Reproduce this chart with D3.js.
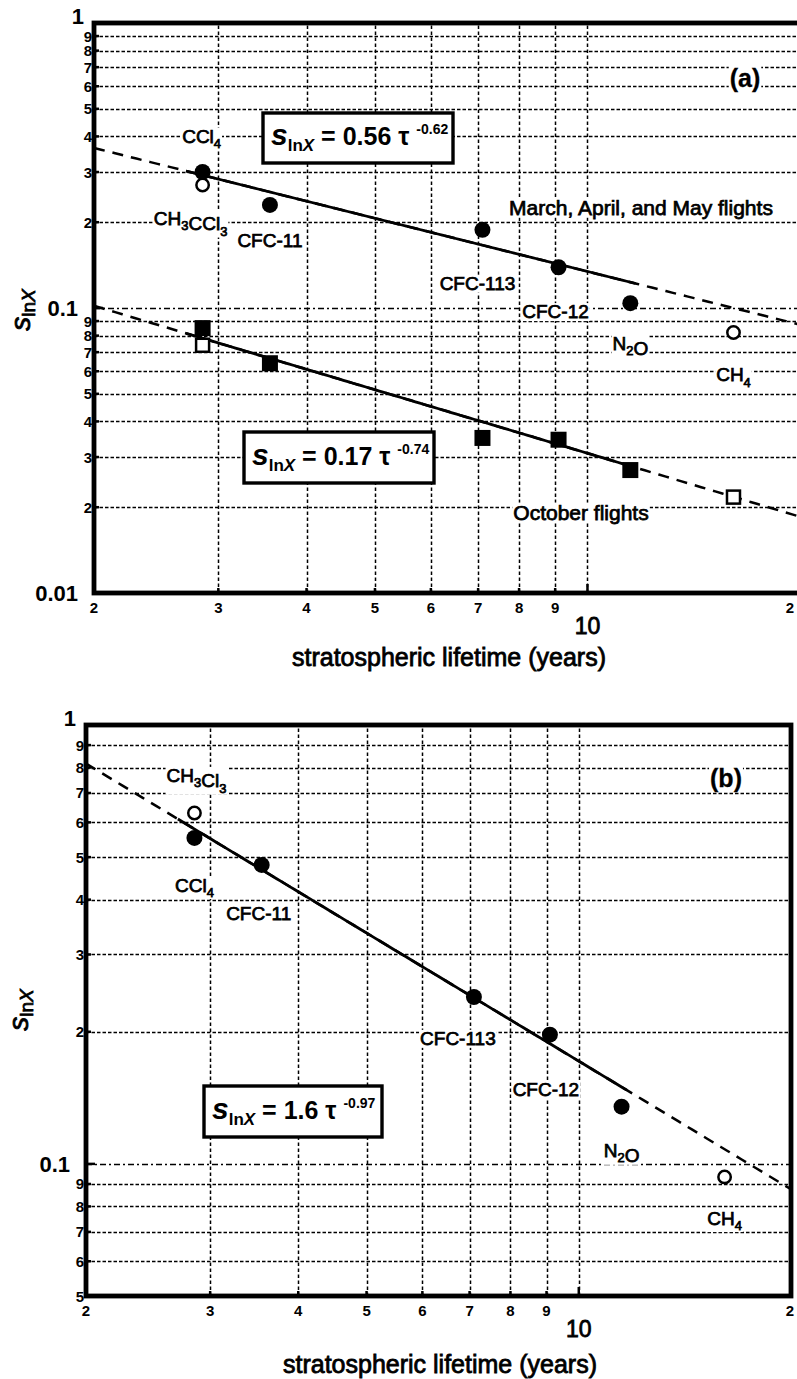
<!DOCTYPE html>
<html>
<head>
<meta charset="utf-8">
<script src="https://cdn.jsdelivr.net/npm/d3@7"></script>
<style>
  body { margin: 0; background: #fff; }
  svg { display: block; }
  text { font-family: "Liberation Sans", Arial, Helvetica, sans-serif; fill: #000; }
</style>
</head>
<body>
<svg id="chart" width="797" height="1379"></svg>
<script>
// ---- data -------------------------------------------------------------
// trace species, in plotting order
const speciesA = ["CCl_4", "CH_3CCl_3", "CFC-11", "CFC-113", "CFC-12", "N_2O", "CH_4"];
const speciesB = ["CCl_4", "CH_3Cl_3", "CFC-11", "CFC-113", "CFC-12", "N_2O", "CH_4"];
// stratospheric lifetime (years)
const lifetime = [2.85, 2.85, 3.55, 7.1, 9.1, 11.5, 16.1];
// species not used in the fit are drawn hollow
const hollow = [false, true, false, false, false, false, true];
// s_lnX, panel (a): March/April/May flights and October flights
const springValues = [0.30, 0.27, 0.23, 0.188, 0.139, 0.104, 0.082];
const octoberValues = [0.085, 0.074, 0.064, 0.035, 0.0345, 0.027, 0.0217];
// s_lnX, panel (b)
const panelBValues = [0.553, 0.63, 0.48, 0.24, 0.197, 0.135, 0.0934];
// power-law fits  s = c * tau^k
const fitCoef = [0.56, 0.17, 1.6];
const fitExp = [-0.62, -0.74, -0.97];
const fitSolidRange = [2.7, 11.7];
// axis ticks
const xMinorTicks = [2, 3, 4, 5, 6, 7, 8, 9];
const xMajorTicks = [10];
const xGridTicks = [3, 4, 5, 6, 7, 8, 9, 10];
const yMinorA = [0.02, 0.03, 0.04, 0.05, 0.06, 0.07, 0.08, 0.09, 0.2, 0.3, 0.4, 0.5, 0.6, 0.7, 0.8, 0.9];
const yMajorA = [0.01, 0.1, 1];
const yMinorB = [0.05, 0.06, 0.07, 0.08, 0.09, 0.2, 0.3, 0.4, 0.5, 0.6, 0.7, 0.8, 0.9];
const yMajorB = [0.1, 1];

// ---- drawing ----------------------------------------------------------
const svg = d3.select("#chart");

// write text with "_n" subscripts as tspans
function richText(sel, str, size) {
  const parts = str.split(/(_\d)/).filter(s => s.length);
  parts.forEach(p => {
    if (p.startsWith("_")) {
      sel.append("tspan").attr("font-size", size * 0.68).attr("dy", size * 0.28).text(p.slice(1));
      sel.append("tspan").attr("font-size", size).attr("dy", -size * 0.28).text("");
    } else {
      sel.append("tspan").text(p);
    }
  });
}

// text with a white knock-out background behind it
function labelWithBg(g, str, cx, cy, size, weight) {
  const t = g.append("text")
    .attr("x", cx).attr("y", cy + size * 0.36)
    .attr("text-anchor", "middle")
    .attr("font-size", size)
    .attr("font-weight", weight || null)
    .attr("stroke", "#000").attr("stroke-width", weight ? 0.3 : 0.75);
  richText(t, str, size);
  const bb = t.node().getBBox();
  g.insert("rect", () => t.node())
    .attr("x", bb.x - 1).attr("y", bb.y + 2)
    .attr("width", bb.width + 2).attr("height", bb.height - 3)
    .attr("fill", "#fff");
  return t;
}

function equationBox(g, box, coef, expo) {
  g.append("rect")
    .attr("x", box[0]).attr("y", box[1])
    .attr("width", box[2]).attr("height", box[3])
    .attr("fill", "#fff").attr("stroke", "#000").attr("stroke-width", 3.4);
  const base = box[1] + box[3] * 0.64;
  const t = g.append("text").attr("x", box[0] + 8).attr("y", base)
    .attr("font-size", 25).attr("font-weight", "bold");
  t.append("tspan").attr("font-style", "italic")
    .attr("font-size", 30).text("s");
  t.append("tspan").attr("font-size", 17).attr("dy", 6).text("ln");
  t.append("tspan").attr("font-size", 17).attr("font-style", "italic").text("X");
  t.append("tspan").attr("font-size", 25).attr("dy", -6).text(" = " + coef + " \u03C4 ");
  t.append("tspan").attr("font-size", 14).attr("dy", -11).text(String(expo));
}

function yTitle(cx, cy) {
  const t = svg.append("text")
    .attr("transform", `translate(${cx},${cy}) rotate(-90)`)
    .attr("text-anchor", "middle")
    .attr("font-size", 28)
    .attr("stroke", "#000").attr("stroke-width", 0.8);
  t.append("tspan").attr("font-style", "italic").text("s");
  t.append("tspan").attr("font-size", 19).attr("dy", 5).text("ln");
  t.append("tspan").attr("font-size", 19).attr("font-style", "italic").text("X");
}

function drawPanel(cfg) {
  const x = d3.scaleLog().domain([2, 20]).range(cfg.xRange);
  const y = d3.scaleLog().domain(cfg.yDomain).range(cfg.yRange);
  const [x0, x1] = cfg.xRange;
  const [yb, yt] = cfg.yRange;
  const g = svg.append("g");

  // clip for the data region
  const clipId = "clip-" + cfg.id;
  svg.append("defs").append("clipPath").attr("id", clipId)
    .append("rect").attr("x", x0).attr("y", yt).attr("width", x1 - x0).attr("height", yb - yt);

  // grid
  const grid = g.append("g").attr("stroke", "#000").attr("stroke-width", 1.5).attr("fill", "none");
  grid.selectAll("line.h").data(cfg.yMinor.concat(cfg.yMajor.filter(v => v > cfg.yDomain[0] && v < cfg.yDomain[1])))
    .join("line")
    .attr("x1", x0).attr("x2", x1)
    .attr("y1", d => Math.round(y(d)) + 0.5).attr("y2", d => Math.round(y(d)) + 0.5)
    .attr("stroke-dasharray", d => cfg.yMajor.includes(d) ? "6,3,2,3" : "3.5,2");
  grid.selectAll("line.v").data(xGridTicks).join("line")
    .attr("x1", d => Math.round(x(d)) + 0.5).attr("x2", d => Math.round(x(d)) + 0.5)
    .attr("y1", yb).attr("y2", yt)
    .attr("stroke-dasharray", "3.5,2.5");

  // inward ticks
  const ticks = g.append("g").attr("stroke", "#000").attr("stroke-width", 2.5);
  ticks.selectAll("line.ty").data(cfg.yMinor.concat(cfg.yMajor)).join("line")
    .attr("x1", x0).attr("x2", d => x0 + (cfg.yMajor.includes(d) ? 9 : 5))
    .attr("y1", d => y(d)).attr("y2", d => y(d));
  ticks.selectAll("line.tx").data(xMinorTicks.concat(xMajorTicks)).join("line")
    .attr("x1", d => x(d)).attr("x2", d => x(d))
    .attr("y1", yb).attr("y2", d => yb - (d === 10 ? 9 : 5));

  // fits: dashed across the axis, solid over the fitted range
  const fitG = g.append("g").attr("clip-path", `url(#${clipId})`);
  cfg.fits.forEach(i => {
    const f = t => fitCoef[i] * Math.pow(t, fitExp[i]);
    const full = d3.range(0, 101).map(k => 2 * Math.pow(10, k / 100));
    const solid = d3.range(0, 101).map(k => fitSolidRange[0] * Math.pow(fitSolidRange[1] / fitSolidRange[0], k / 100));
    const line = d3.line().x(d => x(d)).y(d => y(f(d)));
    fitG.append("path").attr("d", line(full)).attr("fill", "none")
      .attr("stroke", "#000").attr("stroke-width", 2.5).attr("stroke-dasharray", "11,8");
    fitG.append("path").attr("d", line(solid)).attr("fill", "none")
      .attr("stroke", "#000").attr("stroke-width", 2.8);
  });

  // markers
  cfg.series.forEach(s => {
    const mg = g.append("g");
    const idx = d3.range(s.values.length).sort((a, b) => hollow[b] - hollow[a]);
    idx.forEach(i => {
      const cx = x(lifetime[i]), cy = y(s.values[i]);
      if (s.shape === "circle") {
        mg.append("circle").attr("cx", cx).attr("cy", cy)
          .attr("r", hollow[i] ? 6.2 : 8)
          .attr("fill", hollow[i] ? "#fff" : "#000")
          .attr("stroke", "#000").attr("stroke-width", hollow[i] ? 2.5 : 0);
      } else {
        const h = hollow[i] ? 6.5 : 8;
        mg.append("rect").attr("x", cx - h).attr("y", cy - h)
          .attr("width", 2 * h).attr("height", 2 * h)
          .attr("fill", hollow[i] ? "#fff" : "#000")
          .attr("stroke", "#000").attr("stroke-width", hollow[i] ? 2.5 : 0);
      }
    });
  });

  // species labels
  const lg = g.append("g");
  cfg.labels.forEach(l => {
    const i = l.i;
    const vals = cfg.series[l.s].values;
    labelWithBg(lg, cfg.names[i], x(lifetime[i]) + l.dx, y(vals[i]) + l.dy, 19);
  });
  cfg.notes.forEach(n => labelWithBg(lg, n.text, n.x, n.y, n.size, n.bold ? "bold" : null));

  // equation boxes
  cfg.boxes.forEach(b => equationBox(g, b.box, fitCoef[b.i], fitExp[b.i]));

  // frame
  const fr = g.append("g").attr("stroke", "#000").attr("stroke-width", 4.8).attr("fill", "none");
  fr.append("rect").attr("x", x0).attr("y", yt).attr("width", x1 - x0).attr("height", yb - yt);

  // tick labels
  const tl = g.append("g");
  tl.selectAll("text.ymin").data(cfg.yMinor).join("text")
    .attr("x", x0 - 2).attr("y", d => y(d) + 5.5)
    .attr("text-anchor", "end").attr("font-size", 15).attr("font-weight", "bold")
    .text(d => Math.round(d / Math.pow(10, Math.floor(Math.log10(d) + 1e-9))));
  tl.selectAll("text.ymaj").data(cfg.yMajor).join("text")
    .attr("x", d => x0 - (d === 1 ? 10 : 16)).attr("y", d => y(d) + (d === 1 ? 1 : 8))
    .attr("text-anchor", "end").attr("font-size", 22).attr("font-weight", "bold")
    .text(d => d === 1 ? "1" : String(d));
  tl.selectAll("text.xmin").data(xMinorTicks.concat([20])).join("text")
    .attr("x", d => Math.min(x(d), 790)).attr("y", yb + 20)
    .attr("text-anchor", "middle").attr("font-size", 15).attr("font-weight", "bold")
    .text(d => d === 20 ? "2" : String(d));
  tl.selectAll("text.xmaj").data(xMajorTicks).join("text")
    .attr("x", d => x(d)).attr("y", yb + 41)
    .attr("text-anchor", "middle").attr("font-size", 23)
    .attr("stroke", "#000").attr("stroke-width", 0.8)
    .text(d => String(d));

  // axis titles
  svg.append("text")
    .attr("x", cfg.xTitle[0]).attr("y", cfg.xTitle[1])
    .attr("text-anchor", "middle").attr("font-size", 25)
    .attr("stroke", "#000").attr("stroke-width", 0.8)
    .text("stratospheric lifetime (years)");
  yTitle(cfg.yTitle[0], cfg.yTitle[1]);
}

// panel (a)
drawPanel({
  id: "a",
  xRange: [94, 800],
  yDomain: [0.01, 1],
  yRange: [593, 23],
  yMinor: yMinorA,
  yMajor: yMajorA,
  names: speciesA,
  series: [
    { values: springValues, shape: "circle" },
    { values: octoberValues, shape: "square" }
  ],
  fits: [0, 1],
  labels: [
    { s: 0, i: 0, dx: -1, dy: -36 },
    { s: 0, i: 1, dx: -12, dy: 33 },
    { s: 0, i: 2, dx: 0, dy: 35 },
    { s: 0, i: 3, dx: -5, dy: 53 },
    { s: 0, i: 4, dx: -3, dy: 44 },
    { s: 0, i: 5, dx: 0, dy: 40 },
    { s: 0, i: 6, dx: 0, dy: 42 }
  ],
  notes: [
    { text: "March, April, and May flights", x: 641, y: 207, size: 21 },
    { text: "October flights", x: 581, y: 512, size: 21 },
    { text: "(a)", x: 745, y: 78, size: 25, bold: true }
  ],
  boxes: [
    { i: 0, box: [263, 113, 190, 50] },
    { i: 1, box: [244, 432, 190, 51] }
  ],
  xTitle: [449, 666],
  yTitle: [30, 310]
});

// panel (b)
drawPanel({
  id: "b",
  xRange: [86, 791],
  yDomain: [0.05, 1],
  yRange: [1296, 725],
  yMinor: yMinorB,
  yMajor: yMajorB,
  names: speciesB,
  series: [
    { values: panelBValues, shape: "circle" }
  ],
  fits: [2],
  labels: [
    { s: 0, i: 0, dx: 0, dy: 47 },
    { s: 0, i: 1, dx: 2, dy: -38 },
    { s: 0, i: 2, dx: -3, dy: 48 },
    { s: 0, i: 3, dx: -16, dy: 41 },
    { s: 0, i: 4, dx: -4, dy: 55 },
    { s: 0, i: 5, dx: 0, dy: 43 },
    { s: 0, i: 6, dx: 0, dy: 41 }
  ],
  notes: [
    { text: "(b)", x: 726, y: 778, size: 25, bold: true }
  ],
  boxes: [
    { i: 2, box: [204, 1086, 178, 51] }
  ],
  xTitle: [440, 1373],
  yTitle: [28, 1010]
});
</script>
</body>
</html>
